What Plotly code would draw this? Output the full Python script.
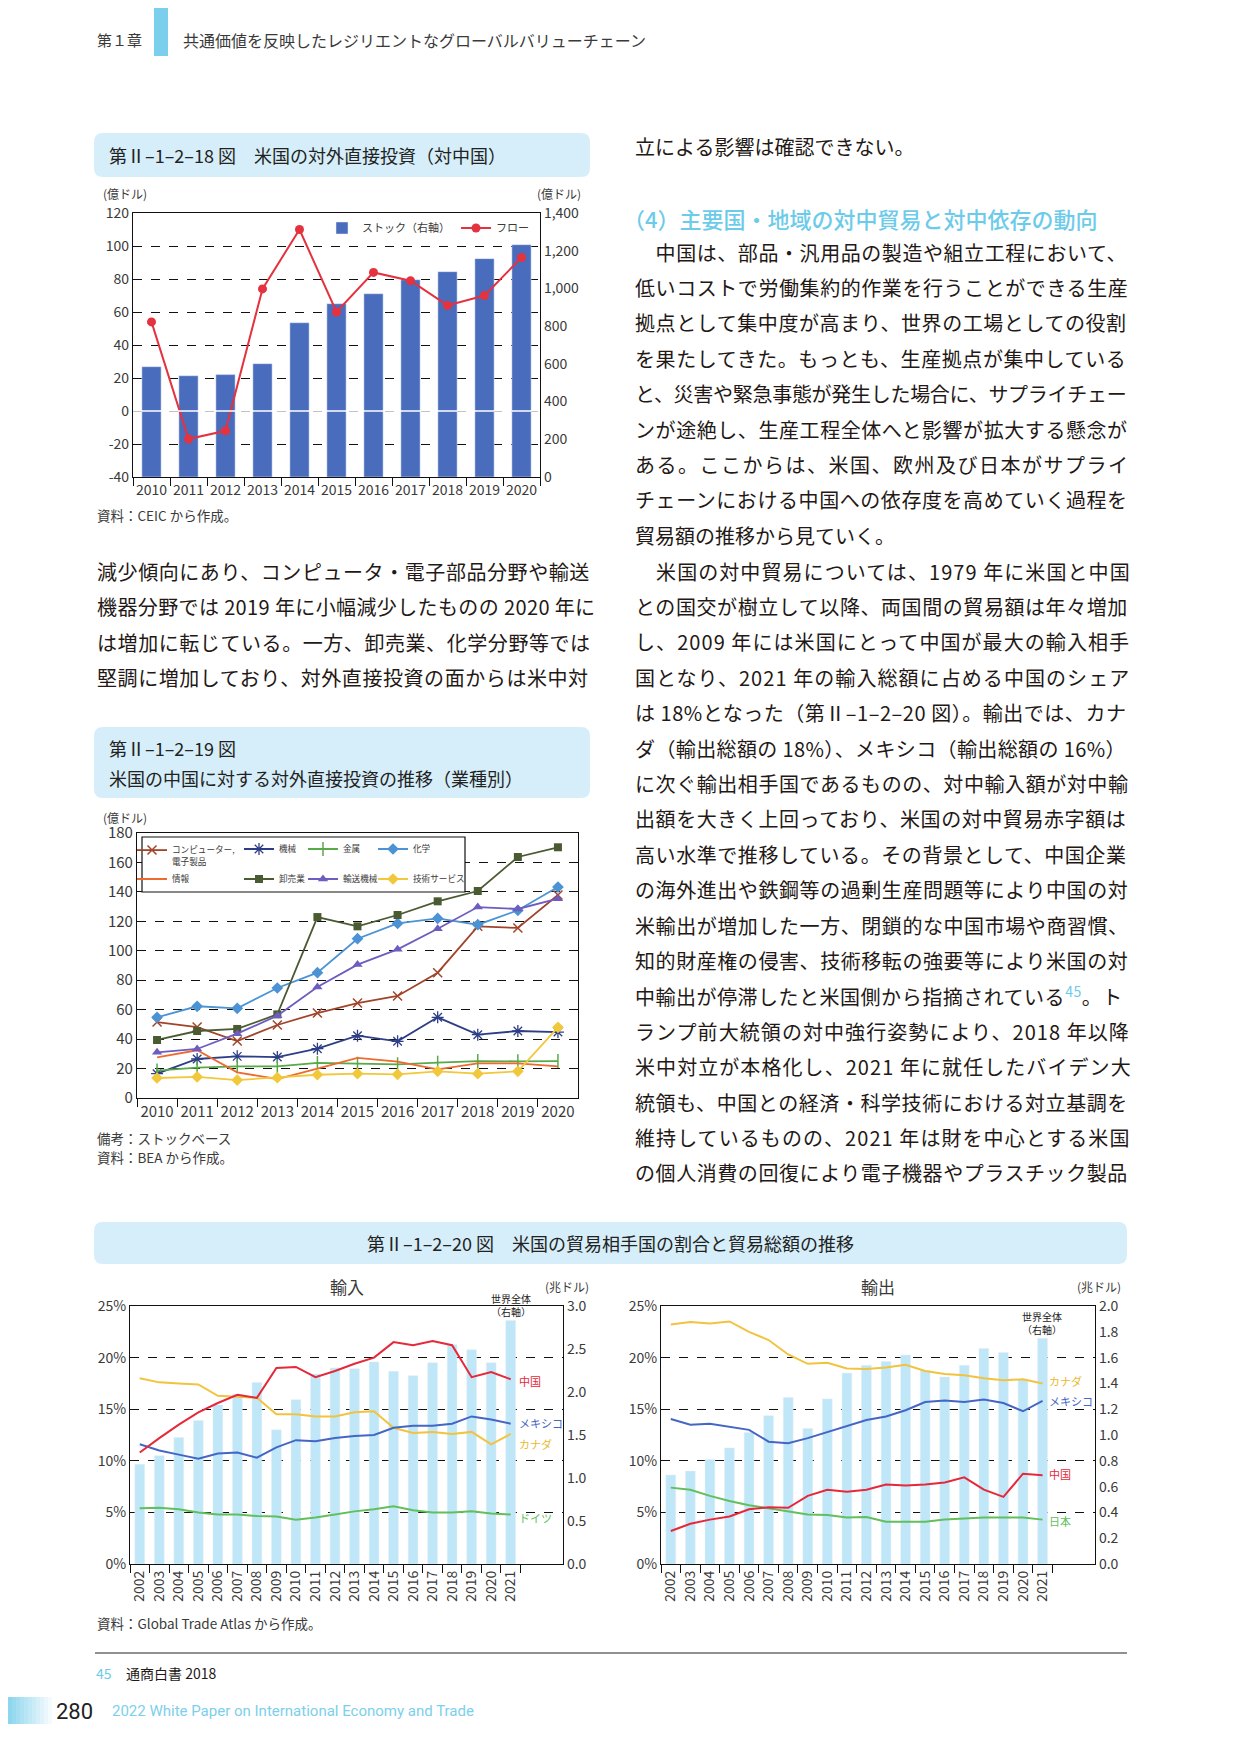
import re
import plotly.graph_objects as go

W, H = 1241, 1754
OFF = 8  # the page body adds an 8px margin around the figure
FONT = "Noto Sans CJK JP"
INK = "#231815"
GREY = "#3a3a3a"
BOX = "#d5eef9"
SKY = "#6dcbea"

# 第Ⅱ-1-2-18図 米国の対外直接投資（対中国） 億ドル
fdi_years = ["2010", "2011", "2012", "2013", "2014", "2015", "2016", "2017", "2018", "2019", "2020"]
fdi_stock = [585, 537, 543, 601, 818, 919, 972, 1046, 1089, 1158, 1232]
fdi_flow = [54, -17, -12, 74, 110, 60, 84, 79, 64, 70, 93]
flow_ticks = [-40, -20, 0, 20, 40, 60, 80, 100, 120]
flow_labels = ["-40", "-20", "0", "20", "40", "60", "80", "100", "120"]
stock_ticks = [0, 200, 400, 600, 800, 1000, 1200, 1400]
stock_labels = ["0", "200", "400", "600", "800", "1,000", "1,200", "1,400"]

# 第Ⅱ-1-2-19図 業種別 億ドル
computer = [51.6, 48.2, 38.7, 49.6, 57.7, 64.5, 69.3, 85.1, 116.6, 115.5, 137.9]
machinery = [16.5, 26.5, 28.3, 27.8, 33.5, 42.3, 38.5, 54.8, 43.0, 45.5, 44.8]
metals = [18.6, 20.6, 21.5, 21.5, 23.8, 23.3, 22.9, 24.0, 25.1, 24.9, 25.1]
chemicals = [54.8, 62.3, 60.9, 74.7, 85.1, 108.2, 118.6, 122.0, 117.7, 127.5, 143.3]
information = [27.6, 32.4, 17.4, 12.9, 19.9, 27.2, 24.7, 19.5, 23.5, 23.5, 21.5]
wholesale = [39.4, 45.5, 46.9, 56.8, 122.9, 116.6, 124.3, 133.6, 140.6, 163.7, 170.3]
transport = [31.0, 33.3, 43.7, 55.9, 75.4, 90.6, 101.0, 115.0, 129.7, 128.4, 135.4]
tech_services = [13.6, 14.3, 12.2, 13.8, 15.8, 16.5, 16.1, 18.1, 16.5, 18.1, 48.0]

# 第Ⅱ-1-2-20図 貿易相手国の割合(%) と 貿易総額(兆ドル)
trade_years = [str(y) for y in range(2002, 2022)]
imp_world = [1.16, 1.26, 1.47, 1.67, 1.85, 1.97, 2.11, 1.56, 1.91, 2.21,
             2.28, 2.27, 2.35, 2.24, 2.19, 2.34, 2.55, 2.49, 2.34, 2.83]
imp_china = [10.8, 12.2, 13.5, 14.7, 15.6, 16.4, 16.1, 19.0, 19.1, 18.1,
             18.7, 19.4, 20.0, 21.5, 21.2, 21.6, 21.2, 18.1, 18.6, 17.9]
imp_mexico = [11.6, 11.0, 10.6, 10.2, 10.7, 10.8, 10.3, 11.3, 12.0, 11.9,
              12.2, 12.4, 12.5, 13.2, 13.4, 13.4, 13.6, 14.3, 14.0, 13.6]
imp_canada = [18.0, 17.6, 17.5, 17.4, 16.3, 16.2, 16.1, 14.5, 14.5, 14.3,
              14.3, 14.7, 14.8, 13.2, 12.7, 12.8, 12.6, 12.8, 11.6, 12.6]
imp_germany = [5.4, 5.45, 5.3, 5.0, 4.8, 4.8, 4.65, 4.6, 4.3, 4.5,
               4.8, 5.1, 5.3, 5.6, 5.2, 5.0, 5.0, 5.1, 4.9, 4.8]
exp_world = [0.69, 0.72, 0.81, 0.90, 1.02, 1.15, 1.29, 1.05, 1.28, 1.48,
             1.54, 1.57, 1.62, 1.50, 1.45, 1.54, 1.67, 1.64, 1.43, 1.75]
exp_canada = [23.2, 23.45, 23.3, 23.5, 22.5, 21.7, 20.3, 19.4, 19.5, 18.95,
              18.9, 19.05, 19.3, 18.7, 18.4, 18.3, 18.0, 17.8, 17.9, 17.5]
exp_mexico = [14.05, 13.5, 13.6, 13.3, 13.0, 11.85, 11.7, 12.2, 12.8, 13.4,
              13.95, 14.3, 14.9, 15.7, 15.85, 15.7, 15.95, 15.6, 14.8, 15.8]
exp_china = [3.2, 3.9, 4.3, 4.6, 5.3, 5.5, 5.45, 6.6, 7.2, 7.0,
             7.2, 7.7, 7.6, 7.7, 7.9, 8.4, 7.2, 6.5, 8.75, 8.6]
exp_japan = [7.4, 7.2, 6.6, 6.1, 5.7, 5.4, 5.1, 4.8, 4.75, 4.5,
             4.55, 4.1, 4.1, 4.1, 4.3, 4.4, 4.5, 4.5, 4.5, 4.3]
pct_ticks = [0, 5, 10, 15, 20, 25]
pct_labels = ["0%", "5%", "10%", "15%", "20%", "25%"]
imp_right_ticks = [0.0, 0.5, 1.0, 1.5, 2.0, 2.5, 3.0]
exp_right_ticks = [0.0, 0.2, 0.4, 0.6, 0.8, 1.0, 1.2, 1.4, 1.6, 1.8, 2.0]

left_lines = [
    "減少傾向にあり、コンピュータ・電子部品分野や輸送",
    "機器分野では 2019 年に小幅減少したものの 2020 年に",
    "は増加に転じている。一方、卸売業、化学分野等では",
    "堅調に増加しており、対外直接投資の面からは米中対",
]
para1 = [
    "　中国は、部品・汎用品の製造や組立工程において、",
    "低いコストで労働集約的作業を行うことができる生産",
    "拠点として集中度が高まり、世界の工場としての役割",
    "を果たしてきた。もっとも、生産拠点が集中している",
    "と、災害や緊急事態が発生した場合に、サプライチェー",
    "ンが途絶し、生産工程全体へと影響が拡大する懸念が",
    "ある。ここからは、米国、欧州及び日本がサプライ",
    "チェーンにおける中国への依存度を高めていく過程を",
    "貿易額の推移から見ていく。",
]
para2 = [
    "　米国の対中貿易については、1979 年に米国と中国",
    "との国交が樹立して以降、両国間の貿易額は年々増加",
    "し、2009 年には米国にとって中国が最大の輸入相手",
    "国となり、2021 年の輸入総額に占める中国のシェア",
    "は 18%となった（第Ⅱ–1–2–20 図）。輸出では、カナ",
    "ダ（輸出総額の 18%）、メキシコ（輸出総額の 16%）",
    "に次ぐ輸出相手国であるものの、対中輸入額が対中輸",
    "出額を大きく上回っており、米国の対中貿易赤字額は",
    "高い水準で推移している。その背景として、中国企業",
    "の海外進出や鉄鋼等の過剰生産問題等により中国の対",
    "米輸出が増加した一方、閉鎖的な中国市場や商習慣、",
    "知的財産権の侵害、技術移転の強要等により米国の対",
    "中輸出が停滞したと米国側から指摘されている<sup><span style='color:#6dcbea'>45</span></sup>。ト",
    "ランプ前大統領の対中強行姿勢により、2018 年以降",
    "米中対立が本格化し、2021 年に就任したバイデン大",
    "統領も、中国との経済・科学技術における対立基調を",
    "維持しているものの、2021 年は財を中心とする米国",
    "の個人消費の回復により電子機器やプラスチック製品",
]


def px(v):
    return (v - OFF) / W


def py(v):
    return 1 - (v - OFF) / H


annotations = []
shapes = []


def text(s, x, y, size, color=INK, anchor="left", family=FONT, weight=None):
    f = dict(family=family, size=size, color=color)
    if weight:
        f["weight"] = weight
    annotations.append(dict(x=px(x), y=py(y), xref="paper", yref="paper", text=s,
                            showarrow=False, xanchor=anchor, yanchor="middle", font=f))


def est_width(s, fs):
    w = 0
    for ch in s:
        if ch == " ":
            w += 0.23
        elif ch == "%":
            w += 0.8
        elif ch == "–":
            w += 0.5
        elif ord(ch) < 128:
            w += 0.52
        else:
            w += 1.0
    return w * fs


def body(s, x, y, justify=True, fs=20, target=493):
    plain = re.sub("<[^>]+>", "", s)
    if justify:
        ls = (target - est_width(plain, fs)) / max(len(plain) - 1, 1)
        s = "<span style='letter-spacing:%.2fpx'>%s</span>" % (ls, s)
    text(s, x, y, fs)


def rounded_box(x0, y0, x1, y1, r=9, color=BOX):
    a, b, c, d = px(x0), py(y1), px(x1), py(y0)
    rx, ry = r / W, r / H
    path = (f"M {a+rx},{b} L {c-rx},{b} Q {c},{b} {c},{b+ry} L {c},{d-ry} Q {c},{d} {c-rx},{d} "
            f"L {a+rx},{d} Q {a},{d} {a},{d-ry} L {a},{b+ry} Q {a},{b} {a+rx},{b} Z")
    shapes.append(dict(type="path", path=path, xref="paper", yref="paper",
                       fillcolor=color, line=dict(width=0), layer="below"))


fig = go.Figure()

# ---------- chart 18 ----------
fig.add_trace(go.Bar(x=fdi_years, y=fdi_stock, width=0.52, marker_color="#4a6cbd",
                     name="ストック（右軸）", xaxis="x", yaxis="y", legend="legend"))
fig.add_trace(go.Scatter(x=fdi_years, y=fdi_flow, mode="lines+markers", name="フロー",
                         line=dict(color="#e4323e", width=2), marker=dict(size=9, color="#e4323e"),
                         xaxis="x", yaxis="y2", legend="legend10"))

# ---------- chart 19 ----------
sector_series = [
    ("コンピューター,<br>電子製品", computer, "#a0452b", dict(symbol="x-thin-open", size=9, line=dict(width=1.5, color="#a0452b"))),
    ("機械", machinery, "#2d3e86", dict(symbol="asterisk-open", size=10, line=dict(width=1.3, color="#2d3e86"))),
    ("金属", metals, "#58a948", dict(symbol="line-ns-open", size=10, line=dict(width=1.5, color="#58a948"))),
    ("化学", chemicals, "#4b93d4", dict(symbol="diamond", size=9)),
    ("情報", information, "#ee6a2f", None),
    ("卸売業", wholesale, "#4a5a31", dict(symbol="square", size=8)),
    ("輸送機械", transport, "#6e5cc0", dict(symbol="triangle-up", size=9)),
    ("技術サービス", tech_services, "#f2c83b", dict(symbol="diamond", size=9)),
]
for i, (name, vals, col, mk) in enumerate(sector_series):
    tr = dict(x=fdi_years, y=vals, name=name, line=dict(color=col, width=1.8),
              xaxis="x2", yaxis="y3", legend="legend%d" % (i + 2))
    if mk:
        mk = dict(mk)
        mk.setdefault("color", col)
        tr.update(mode="lines+markers", marker=mk)
    else:
        tr.update(mode="lines")
    fig.add_trace(go.Scatter(**tr))

# ---------- chart 20 ----------
fig.add_trace(go.Bar(x=trade_years, y=imp_world, width=0.5, marker_color="#bfe7f8",
                     showlegend=False, xaxis="x3", yaxis="y4"))
for vals, col in [(imp_germany, "#62bf5c"), (imp_canada, "#f2c33e"),
                  (imp_mexico, "#4466c4"), (imp_china, "#e6283a")]:
    fig.add_trace(go.Scatter(x=trade_years, y=vals, mode="lines", line=dict(color=col, width=2),
                             showlegend=False, xaxis="x3", yaxis="y5"))
fig.add_trace(go.Bar(x=trade_years, y=exp_world, width=0.5, marker_color="#bfe7f8",
                     showlegend=False, xaxis="x4", yaxis="y6"))
for vals, col in [(exp_japan, "#62bf5c"), (exp_china, "#e6283a"),
                  (exp_mexico, "#4466c4"), (exp_canada, "#f2c33e")]:
    fig.add_trace(go.Scatter(x=trade_years, y=vals, mode="lines", line=dict(color=col, width=2),
                             showlegend=False, xaxis="x4", yaxis="y7"))

tickfont = dict(family=FONT, size=14, color=GREY)
grid = dict(showgrid=True, gridcolor="#111", griddash="dash", gridwidth=1, zeroline=False)
line = dict(showline=True, linecolor="#111", linewidth=1.2)

layout = dict(
    width=W, height=H, autosize=False,
    margin=dict(l=0, r=0, t=0, b=0, pad=0, autoexpand=False),
    paper_bgcolor="white", plot_bgcolor="white", showlegend=True,
    # chart 18
    xaxis=dict(domain=[px(133), px(540)], anchor="y", type="category", tickson="boundaries",
               ticks="outside", ticklen=8, tickcolor="#111", mirror=True, tickangle=0,
               tickfont=tickfont, range=[-0.5, 10.5], **line),
    yaxis=dict(domain=[py(477), py(213)], anchor="x", side="right", range=[0, 1400],
               tickvals=stock_ticks, ticktext=stock_labels, showgrid=False, zeroline=False,
               tickfont=tickfont, **line),
    yaxis2=dict(overlaying="y", anchor="x", side="left", range=[-40, 120], tickvals=flow_ticks,
                ticktext=flow_labels, tickfont=tickfont, **grid, **line),
    # chart 19
    xaxis2=dict(domain=[px(137), px(578)], anchor="y3", type="category", tickson="boundaries",
                ticks="outside", ticklen=8, tickcolor="#111", mirror=True, tickangle=0,
                tickfont=dict(family=FONT, size=15, color=GREY), range=[-0.5, 10.5], **line),
    yaxis3=dict(domain=[py(1098), py(833)], anchor="x2", range=[0, 180], dtick=20, mirror=True,
                tickfont=dict(family=FONT, size=15, color=GREY), **grid, **line),
    # chart 20 import
    xaxis3=dict(domain=[px(130), px(563)], anchor="y4", type="category", tickson="boundaries",
                ticks="outside", ticklen=8, tickcolor="#111", mirror=True, tickangle=-90,
                tickfont=tickfont, range=[-0.5, 21.68], **line),
    yaxis4=dict(domain=[py(1564), py(1306)], anchor="x3", side="right", range=[0, 3.0],
                tickvals=imp_right_ticks, tickformat=".1f", showgrid=False, zeroline=False,
                tickfont=tickfont, **line),
    yaxis5=dict(overlaying="y4", anchor="x3", side="left", range=[0, 25], tickvals=pct_ticks,
                ticktext=pct_labels, tickfont=tickfont, **grid, **line),
    # chart 20 export
    xaxis4=dict(domain=[px(661), px(1095)], anchor="y6", type="category", tickson="boundaries",
                ticks="outside", ticklen=8, tickcolor="#111", mirror=True, tickangle=-90,
                tickfont=tickfont, range=[-0.5, 21.68], **line),
    yaxis6=dict(domain=[py(1564), py(1306)], anchor="x4", side="right", range=[0, 2.0],
                tickvals=exp_right_ticks, tickformat=".1f", showgrid=False, zeroline=False,
                tickfont=tickfont, **line),
    yaxis7=dict(overlaying="y6", anchor="x4", side="left", range=[0, 25], tickvals=pct_ticks,
                ticktext=pct_labels, tickfont=tickfont, **grid, **line),
)

leg_font = dict(family=FONT, size=11, color=GREY)
layout["legend"] = dict(x=px(322), y=py(228), xanchor="left", yanchor="middle",
                        bgcolor="rgba(0,0,0,0)", font=leg_font, itemwidth=30)
layout["legend10"] = dict(x=px(456), y=py(228), xanchor="left", yanchor="middle",
                          bgcolor="rgba(0,0,0,0)", font=leg_font, itemwidth=30)
leg_pos = [(132, 856), (239, 849), (303, 849), (373, 849),
           (132, 879), (239, 879), (303, 879), (373, 879)]
for i, (lx, ly) in enumerate(leg_pos):
    d = dict(x=px(lx), y=py(ly), xanchor="left", yanchor="middle", bgcolor="rgba(0,0,0,0)",
             font=dict(family=FONT, size=8.6, color=GREY), itemwidth=30)
    if i == 0:
        d["valign"] = "top"
    layout["legend%d" % (i + 2)] = d

fig.update_layout(**layout)

# white zero line across the stock bars
shapes.append(dict(type="line", xref="x domain", yref="y2", x0=0, x1=1, y0=0, y1=0,
                   line=dict(color="white", width=1.5), layer="above"))
# legend frame of chart 19
shapes.append(dict(type="rect", xref="paper", yref="paper", x0=px(142), x1=px(465),
                   y0=py(892), y1=py(837), fillcolor="white", line=dict(color="#111", width=1.2),
                   layer="above"))

# ---------- page furniture ----------
shapes.append(dict(type="rect", xref="paper", yref="paper", x0=px(154), x1=px(168),
                   y0=py(56), y1=1, fillcolor="#7acfec", line=dict(width=0)))
text("第１章", 95, 40, 15, GREY)
text("共通価値を反映したレジリエントなグローバルバリューチェーン", 181, 40, 16, GREY)

rounded_box(94, 133, 590, 177)
text("第Ⅱ–1–2–18 図　米国の対外直接投資（対中国）", 107, 155, 18, "#222")
text("(億ドル)", 101, 193, 12, GREY)
text("(億ドル)", 583, 193, 12, GREY, anchor="right")
text("資料：CEIC から作成。", 95, 515, 13.5, GREY)

for k, s in enumerate(left_lines):
    body(s, 95, 571 + 35.6 * k)

rounded_box(94, 727, 590, 798)
text("第Ⅱ–1–2–19 図", 107, 748, 18, "#222")
text("米国の中国に対する対外直接投資の推移（業種別）", 107, 778, 18, "#222")
text("(億ドル)", 101, 817, 12, GREY)
text("備考：ストックベース", 95, 1138, 13.5, GREY)
text("資料：BEA から作成。", 95, 1157, 13.5, GREY)

body("立による影響は確認できない。", 633, 147, justify=False)
text("（4）主要国・地域の対中貿易と対中依存の動向", 621, 218, 22, SKY, weight=500)
for k, s in enumerate(para1):
    body(s, 633, 252 + 35.4 * k, justify=(k < len(para1) - 1))
for k, s in enumerate(para2):
    body(s, 633, 571 + 35.4 * k)

rounded_box(94, 1222, 1127, 1264)
text("第Ⅱ–1–2–20 図　米国の貿易相手国の割合と貿易総額の推移", 610, 1243, 18, "#222", anchor="center")
text("輸入", 347, 1286, 17, GREY, anchor="center")
text("(兆ドル)", 591, 1286, 12, GREY, anchor="right")
text("輸出", 878, 1286, 17, GREY, anchor="center")
text("(兆ドル)", 1123, 1286, 12, GREY, anchor="right")
text("世界全体<br>（右軸）", 511, 1305, 10, "#222", anchor="center")
text("世界全体<br>（右軸）", 1042, 1323, 10, "#222", anchor="center")
text("中国", 517, 1381, 11, "#e6283a")
text("メキシコ", 517, 1423, 11, "#4466c4")
text("カナダ", 517, 1444, 11, "#e9b92e")
text("ドイツ", 517, 1518, 11, "#62bf5c")
text("カナダ", 1047, 1381, 11, "#e9b92e")
text("メキシコ", 1047, 1401, 11, "#4466c4")
text("中国", 1047, 1474, 11, "#e6283a")
text("日本", 1047, 1521, 11, "#62bf5c")
text("資料：Global Trade Atlas から作成。", 95, 1623, 13.5, GREY)

# footer
shapes.append(dict(type="line", xref="paper", yref="paper", x0=px(95), x1=px(1127),
                   y0=py(1653), y1=py(1653), line=dict(color="#222", width=1.2)))
text("45", 94, 1673, 14, SKY)
text("通商白書 2018", 124, 1673, 14, INK)
strips = 14
for i in range(strips):
    t = i / (strips - 1)
    r = int(0x7a + (0xff - 0x7a) * t)
    g = int(0xcf + (0xff - 0xcf) * t)
    b = int(0xec + (0xff - 0xec) * t)
    shapes.append(dict(type="rect", xref="paper", yref="paper",
                       x0=px(56 * i / strips), x1=px(56 * (i + 1) / strips + 0.5),
                       y0=py(1724), y1=py(1697), fillcolor="rgb(%d,%d,%d)" % (r, g, b),
                       line=dict(width=0)))
text("280", 54, 1711, 22, "#222", family="Roboto")
text("2022 White Paper on International Economy and Trade", 110, 1711, 15, "#7ccfec", family="Roboto")

fig.update_layout(annotations=annotations, shapes=shapes)
fig.write_html("out.html")
